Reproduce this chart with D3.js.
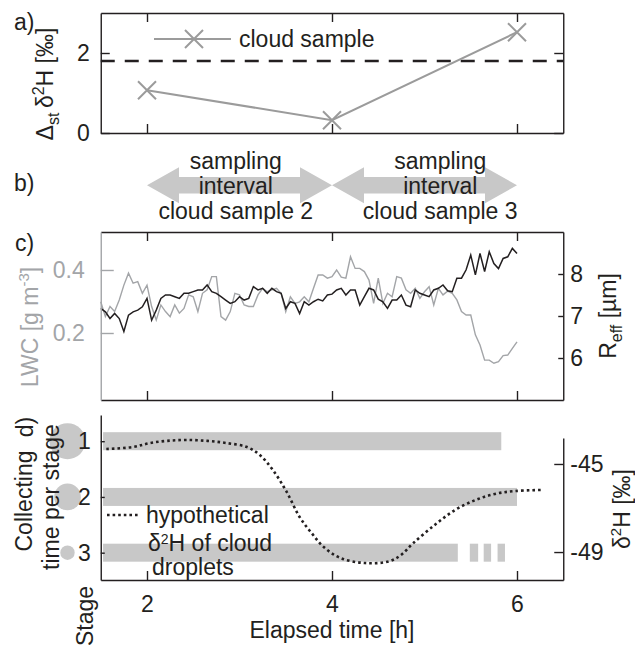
<!DOCTYPE html>
<html>
<head>
<meta charset="UTF-8">
<script src="https://cdn.jsdelivr.net/npm/d3@7"></script>
<style>
    body { margin: 0; background: #fff; }
    svg { display: block; font-family: "Liberation Sans", Arial, sans-serif; }
</style>
</head>
<body>
<svg id="chart" width="635" height="647"></svg>
<script>
// ---- data ----
// a) cloud samples
const sampleTimes = [2, 4, 6];
const sampleDelta = [1.07, 0.32, 2.52];
const stdLimit = 1.8;

// b) sampling intervals
const intervalStart = [2, 4];
const intervalEnd = [4, 6];
const intervalLabelTimes = [2.96, 5.17];
const intervalLabels = [
    ["sampling", "interval", "cloud sample 2"],
    ["sampling", "interval", "cloud sample 3"]
];

// c) LWC and effective radius
const obsTimes = [1.50,1.55,1.60,1.65,1.70,1.75,1.80,1.85,1.90,1.95,2.00,2.05,2.10,2.15,2.20,2.25,2.30,2.35,2.40,2.45,
    2.50,2.55,2.60,2.65,2.70,2.75,2.80,2.85,2.90,2.95,3.00,3.05,3.10,3.15,3.20,3.25,3.30,3.35,3.40,3.45,
    3.50,3.55,3.60,3.65,3.70,3.75,3.80,3.85,3.90,3.95,4.00,4.05,4.10,4.15,4.20,4.25,4.30,4.35,4.40,4.45,
    4.50,4.55,4.60,4.65,4.70,4.75,4.80,4.85,4.90,4.95,5.00,5.05,5.10,5.15,5.20,5.25,5.30,5.35,5.40,5.45,
    5.50,5.55,5.60,5.65,5.70,5.75,5.80,5.85,5.90,5.95,6.00];
const lwc = [0.299,0.252,0.284,0.268,0.305,0.352,0.390,0.358,0.363,0.326,0.352,0.284,0.241,0.289,0.268,0.252,0.289,0.263,0.278,0.321,
    0.315,0.268,0.326,0.337,0.379,0.379,0.252,0.241,0.268,0.326,0.321,0.289,0.284,0.284,0.321,0.342,0.331,0.337,0.342,0.326,
    0.268,0.315,0.294,0.299,0.315,0.299,0.342,0.384,0.384,0.374,0.379,0.400,0.377,0.374,0.442,0.405,0.405,0.395,0.368,0.294,
    0.374,0.294,0.326,0.315,0.379,0.374,0.337,0.326,0.342,0.310,0.331,0.347,0.289,0.342,0.321,0.333,0.326,0.305,0.268,0.257,
    0.257,0.194,0.162,0.114,0.114,0.104,0.109,0.128,0.130,0.151,0.172];
const reff = [7.18,7.10,6.94,7.06,6.94,6.63,7.02,7.10,7.14,7.22,7.42,6.90,7.14,7.42,7.50,7.50,7.46,7.42,7.54,7.54,
    7.58,7.62,7.62,7.74,7.58,7.54,7.46,7.38,7.30,7.34,7.46,7.38,7.42,7.70,7.62,7.66,7.54,7.66,7.58,7.54,
    7.18,7.34,7.30,7.06,7.34,7.26,7.34,7.40,7.36,7.50,7.52,7.62,7.66,7.50,7.62,7.62,7.26,7.46,7.66,7.62,
    7.40,7.34,7.18,7.38,7.38,7.50,7.26,7.22,7.62,7.54,7.50,7.46,7.62,7.66,7.74,7.60,7.58,7.90,7.90,8.10,
    8.45,7.98,8.49,8.06,8.53,8.25,8.13,8.37,8.41,8.61,8.49];

// d) collecting stages and hypothetical d2H
const stages = [1, 2, 3];
const stageTime = [1, 0.55, 0.16];
const barStart = [1.525, 1.525, 1.525];
const barEnd = [5.83, 6.0, 5.36];
const gapStart = [5.49, 5.64, 5.79];
const gapEnd = [5.58, 5.72, 5.87];
const hypoTimes = [1.56,1.85,2.03,2.22,2.43,2.65,2.86,3.08,3.22,3.36,3.51,3.65,3.78,3.91,4.09,4.36,4.62,4.75,4.88,5.11,5.33,5.55,5.76,5.98,6.27];
const hypoDelta = [-44.32,-44.23,-44.05,-43.95,-43.91,-43.95,-44.05,-44.23,-44.59,-45.27,-46.27,-47.41,-48.14,-48.77,-49.27,-49.50,-49.42,-49.12,-48.59,-47.77,-47.09,-46.64,-46.36,-46.23,-46.18];

const xTicks = [2, 4, 6];

// ---- layout ----
const ink = "#231f20";
const lightGray = "#c8c8c8";
const midGray = "#a3a5a8";
const fs = 23;
const intFmt = d3.format("d");

const svg = d3.select("#chart");
const x = d3.scaleLinear().domain([1.5, 6.5]).range([100.75, 563.25]);
const [xL, xR] = x.range();

function styleAxis(g, color) {
    g.attr("font-family", null).attr("font-size", fs);
    g.selectAll("path, line").attr("stroke", color).attr("stroke-width", 1.4);
    g.selectAll("text").attr("fill", color);
}
function rotLabel(cx, cy) {
    return svg.append("text")
        .attr("transform", `translate(${cx},${cy}) rotate(-90)`)
        .attr("text-anchor", "middle")
        .attr("font-size", fs)
        .attr("fill", ink);
}
function plainLabel(px, py, txt) {
    svg.append("text").attr("x", px).attr("y", py)
        .attr("font-size", fs).attr("fill", ink).text(txt);
}

// ================= panel a =================
const yA = d3.scaleLinear().domain([0, 3]).range([133, 13]);
const [aBot, aTop] = yA.range();

svg.append("g").attr("transform", `translate(0,${aBot})`)
    .call(d3.axisBottom(x).tickValues(xTicks).tickSize(-9).tickSizeOuter(0).tickFormat(""))
    .call(styleAxis, ink);
svg.append("g").attr("transform", `translate(0,${aTop})`)
    .call(d3.axisTop(x).tickValues(xTicks).tickSize(-9).tickSizeOuter(0).tickFormat(""))
    .call(styleAxis, ink);
svg.append("g").attr("transform", `translate(${xL},0)`)
    .call(d3.axisLeft(yA).tickValues([0, 2]).tickSize(-9).tickSizeOuter(0).tickPadding(11).tickFormat(intFmt))
    .call(styleAxis, ink);
svg.append("g").attr("transform", `translate(${xR},0)`)
    .call(d3.axisRight(yA).tickValues([0, 2]).tickSize(-9).tickSizeOuter(0).tickFormat(""))
    .call(styleAxis, ink);

svg.append("line")
    .attr("x1", xL).attr("x2", xR)
    .attr("y1", yA(stdLimit)).attr("y2", yA(stdLimit))
    .attr("stroke", ink).attr("stroke-width", 2.4).attr("stroke-dasharray", "14 10");

const samples = sampleTimes.map((t, i) => [t, sampleDelta[i]]);
svg.append("path").datum(samples)
    .attr("fill", "none").attr("stroke", "#9b9b9b").attr("stroke-width", 2)
    .attr("d", d3.line().x(d => x(d[0])).y(d => yA(d[1])));

const crossPath = "M-9,-9L9,9M-9,9L9,-9";
svg.selectAll(".mk").data(samples).join("path")
    .attr("class", "mk")
    .attr("transform", d => `translate(${x(d[0])},${yA(d[1])})`)
    .attr("d", crossPath).attr("stroke", "#9b9b9b").attr("stroke-width", 2).attr("fill", "none");

// legend
svg.append("line").attr("x1", 154).attr("x2", 231).attr("y1", 39).attr("y2", 39)
    .attr("stroke", "#9b9b9b").attr("stroke-width", 2);
svg.append("path").attr("transform", "translate(194,39)").attr("d", crossPath)
    .attr("stroke", "#9b9b9b").attr("stroke-width", 2);
plainLabel(239, 47, "cloud sample");

const la = rotLabel(53, 84);
la.append("tspan").text("Δ");
la.append("tspan").attr("font-size", 16).attr("dy", 6).text("st ");
la.append("tspan").attr("dy", -6).text("δ");
la.append("tspan").attr("font-size", 16).attr("dy", -9).text("2");
la.append("tspan").attr("dy", 9).text("H [‰]");

plainLabel(14, 30, "a)");

// ================= panel b =================
const arrowY = 185.3, shaftH = 8.3, headH = 18, headL = 32;
intervalStart.forEach((t0, i) => {
    const x0 = x(t0), x1 = x(intervalEnd[i]);
    const pts = [
        [x0, arrowY], [x0 + headL, arrowY - headH], [x0 + headL, arrowY - shaftH],
        [x1 - headL, arrowY - shaftH], [x1 - headL, arrowY - headH], [x1, arrowY],
        [x1 - headL, arrowY + headH], [x1 - headL, arrowY + shaftH],
        [x0 + headL, arrowY + shaftH], [x0 + headL, arrowY + headH]
    ];
    svg.append("polygon").attr("points", pts.map(p => p.join(",")).join(" "))
        .attr("fill", lightGray);
});
intervalLabels.forEach((lines, i) => {
    lines.forEach((ln, j) => {
        svg.append("text")
            .attr("x", x(intervalLabelTimes[i])).attr("y", 169 + j * 25)
            .attr("text-anchor", "middle").attr("font-size", fs).attr("fill", ink)
            .text(ln);
    });
});
plainLabel(14, 191, "b)");

// ================= panel c =================
const yL = d3.scaleLinear().domain([-0.0127, 0.5206]).range([400, 232]);
const yR = d3.scaleLinear().domain([5, 9]).range([400, 232]);
const [cBot, cTop] = yL.range();

const obsL = obsTimes.map((t, i) => [t, lwc[i]]);
const obsR = obsTimes.map((t, i) => [t, reff[i]]);
svg.append("path").datum(obsL)
    .attr("fill", "none").attr("stroke", midGray).attr("stroke-width", 1.4)
    .attr("d", d3.line().x(d => x(d[0])).y(d => yL(d[1])));
svg.append("path").datum(obsR)
    .attr("fill", "none").attr("stroke", ink).attr("stroke-width", 1.5)
    .attr("d", d3.line().x(d => x(d[0])).y(d => yR(d[1])));

svg.append("g").attr("transform", `translate(0,${cBot})`)
    .call(d3.axisBottom(x).tickValues(xTicks).tickSize(-9).tickSizeOuter(0).tickFormat(""))
    .call(styleAxis, ink);
svg.append("g").attr("transform", `translate(0,${cTop})`)
    .call(d3.axisTop(x).tickValues(xTicks).tickSize(-9).tickSizeOuter(0).tickFormat(""))
    .call(styleAxis, ink);
svg.append("g").attr("transform", `translate(${xL},0)`)
    .call(d3.axisLeft(yL).tickValues([0.2, 0.4]).tickSize(-13).tickSizeOuter(0).tickPadding(16).tickFormat(d3.format(".1f")))
    .call(styleAxis, midGray);
svg.append("g").attr("transform", `translate(${xR},0)`)
    .call(d3.axisRight(yR).tickValues([6, 7, 8]).tickSize(-5).tickSizeOuter(0).tickPadding(7).tickFormat(intFmt))
    .call(styleAxis, ink);

const lc = rotLabel(38, 327).attr("fill", midGray);
lc.append("tspan").text("LWC [g m");
lc.append("tspan").attr("font-size", 15).attr("dy", -9).text("-3");
lc.append("tspan").attr("dy", 9).text("]");

const lr = rotLabel(616, 316);
lr.append("tspan").text("R");
lr.append("tspan").attr("font-size", 16).attr("dy", 6).text("eff");
lr.append("tspan").attr("dy", -6).text(" [µm]");

plainLabel(15, 251, "c)");

// ================= panel d =================
const yS = d3.scaleLinear().domain([0.53, 3.49]).range([415, 580]);
const yD = d3.scaleLinear().domain([-50.27, -43.82]).range([580, 438]);
const rS = d3.scaleSqrt().domain([0, 1]).range([0, 18]);
const barH = 18;

svg.selectAll(".bar").data(stages).join("rect")
    .attr("class", "bar")
    .attr("x", (d, i) => x(barStart[i]))
    .attr("width", (d, i) => x(barEnd[i]) - x(barStart[i]))
    .attr("y", d => yS(d) - barH / 2).attr("height", barH)
    .attr("fill", lightGray);
svg.selectAll(".gap").data(gapStart).join("rect")
    .attr("class", "gap")
    .attr("x", d => x(d))
    .attr("width", (d, i) => x(gapEnd[i]) - x(d))
    .attr("y", yS(3) - barH / 2).attr("height", barH)
    .attr("fill", lightGray);

svg.selectAll(".stc").data(stages).join("circle")
    .attr("class", "stc")
    .attr("cx", 67.5).attr("cy", d => yS(d))
    .attr("r", (d, i) => rS(stageTime[i]))
    .attr("fill", lightGray);

// stage axis
svg.append("g").attr("transform", `translate(${xL},0)`)
    .call(d3.axisLeft(yS).tickValues(stages).tickSize(-4).tickSizeOuter(0).tickPadding(10).tickFormat(intFmt))
    .call(styleAxis, ink);
svg.append("g").attr("transform", `translate(0,580)`)
    .call(d3.axisBottom(x).tickValues(xTicks).tickSize(-9).tickSizeOuter(0).tickPadding(16).tickFormat(intFmt))
    .call(styleAxis, ink);
svg.append("g").attr("transform", `translate(${xR},0)`)
    .call(d3.axisRight(yD).tickValues([-45, -49]).tickSize(-9).tickSizeOuter(0).tickPadding(7).tickFormat(d => String(d)))
    .call(styleAxis, ink);

// hypothetical d2H
const hypo = hypoTimes.map((t, i) => [t, hypoDelta[i]]);
svg.append("path").datum(hypo)
    .attr("fill", "none").attr("stroke", ink).attr("stroke-width", 2.6)
    .attr("stroke-dasharray", "2.6 3")
    .attr("d", d3.line().curve(d3.curveCatmullRom.alpha(0.5)).x(d => x(d[0])).y(d => yD(d[1])));

svg.append("line").attr("x1", 107).attr("x2", 138).attr("y1", 515).attr("y2", 515)
    .attr("stroke", ink).attr("stroke-width", 2.6).attr("stroke-dasharray", "2.6 3");
plainLabel(146, 523, "hypothetical");
const hl = svg.append("text").attr("x", 148).attr("y", 551).attr("font-size", fs).attr("fill", ink);
hl.append("tspan").text("δ");
hl.append("tspan").attr("font-size", 14).attr("dy", -7).text("2");
hl.append("tspan").attr("dy", 7).text("H of cloud");
plainLabel(152, 575, "droplets");

const ld = rotLabel(630, 509);
ld.append("tspan").text("δ");
ld.append("tspan").attr("font-size", 15).attr("dy", -9).text("2");
ld.append("tspan").attr("dy", 9).text("H [‰]");

rotLabel(32, 501).text("Collecting");
rotLabel(59, 497).text("time per stage");
rotLabel(33, 427).text("d)");
rotLabel(93, 616).text("Stage");

svg.append("text").attr("x", x(4)).attr("y", 638)
    .attr("text-anchor", "middle").attr("font-size", fs).attr("fill", ink)
    .text("Elapsed time [h]");
</script>
</body>
</html>
